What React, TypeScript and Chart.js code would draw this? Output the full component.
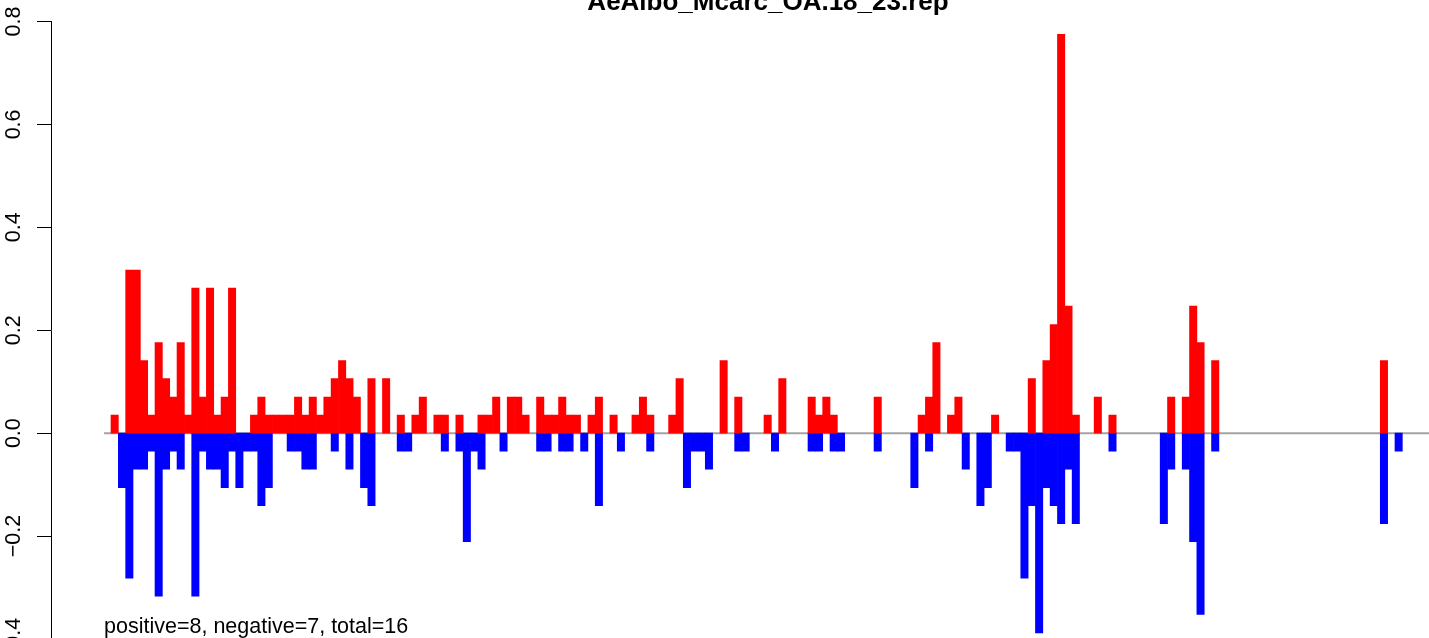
import React, { useEffect, useRef } from 'react';
import { Chart, registerables } from 'chart.js';

Chart.register(...registerables);

const FONT = '"Liberation Sans", Arial, Helvetica, sans-serif';

const chartTitle = 'AeAlbo_Mcarc_OA.18_23.rep';
const noteText = 'positive=8, negative=7, total=16';

// bar slots (categories) 0..175
const positions = Array.from({ length: 176 }, (_, i) => i);

const positiveValues = [
  0.035, 0, 0.317, 0.317, 0.141, 0.035, 0.176, 0.106, 0.070, 0.176,
  0.035, 0.282, 0.070, 0.282, 0.035, 0.070, 0.282, 0, 0, 0.035,
  0.070, 0.035, 0.035, 0.035, 0.035, 0.070, 0.035, 0.070, 0.035, 0.070,
  0.106, 0.141, 0.106, 0.070, 0, 0.106, 0, 0.106, 0, 0.035,
  0, 0.035, 0.070, 0, 0.035, 0.035, 0, 0.035, 0, 0,
  0.035, 0.035, 0.070, 0, 0.070, 0.070, 0.035, 0, 0.070, 0.035,
  0.035, 0.070, 0.035, 0.035, 0, 0.035, 0.070, 0, 0.035, 0,
  0, 0.035, 0.070, 0.035, 0, 0, 0.035, 0.106, 0, 0,
  0, 0, 0, 0.141, 0, 0.070, 0, 0, 0, 0.035,
  0, 0.106, 0, 0, 0, 0.070, 0.035, 0.070, 0.035, 0,
  0, 0, 0, 0, 0.070, 0, 0, 0, 0, 0,
  0.035, 0.070, 0.176, 0, 0.035, 0.070, 0, 0, 0, 0,
  0.035, 0, 0, 0, 0, 0.106, 0, 0.141, 0.211, 0.775,
  0.247, 0.035, 0, 0, 0.070, 0, 0.035, 0, 0, 0,
  0, 0, 0, 0, 0.070, 0, 0.070, 0.247, 0.176, 0,
  0.141, 0, 0, 0, 0, 0, 0, 0, 0, 0,
  0, 0, 0, 0, 0, 0, 0, 0, 0, 0,
  0, 0, 0, 0.141, 0, 0,
];

const negativeValues = [
  0, -0.106, -0.282, -0.070, -0.070, -0.035, -0.317, -0.070, -0.035, -0.070,
  0, -0.317, -0.035, -0.070, -0.070, -0.106, -0.035, -0.106, -0.035, -0.035,
  -0.141, -0.106, 0, 0, -0.035, -0.035, -0.070, -0.070, 0, 0,
  -0.035, 0, -0.070, 0, -0.106, -0.141, 0, 0, 0, -0.035,
  -0.035, 0, 0, 0, 0, -0.035, 0, -0.035, -0.211, -0.035,
  -0.070, 0, 0, -0.035, 0, 0, 0, 0, -0.035, -0.035,
  0, -0.035, -0.035, 0, -0.035, 0, -0.141, 0, 0, -0.035,
  0, 0, 0, -0.035, 0, 0, 0, 0, -0.106, -0.035,
  -0.035, -0.070, 0, 0, 0, -0.035, -0.035, 0, 0, 0,
  -0.035, 0, 0, 0, 0, -0.035, -0.035, 0, -0.035, -0.035,
  0, 0, 0, 0, -0.035, 0, 0, 0, 0, -0.106,
  0, -0.035, 0, 0, 0, 0, -0.070, 0, -0.141, -0.106,
  0, 0, -0.035, -0.035, -0.282, -0.141, -0.388, -0.106, -0.141, -0.176,
  -0.070, -0.176, 0, 0, 0, 0, -0.035, 0, 0, 0,
  0, 0, 0, -0.176, -0.070, 0, -0.070, -0.211, -0.352, 0,
  -0.035, 0, 0, 0, 0, 0, 0, 0, 0, 0,
  0, 0, 0, 0, 0, 0, 0, 0, 0, 0,
  0, 0, 0, -0.176, 0, -0.035,
];

// baseline (grey zero line) extent in slot units
const zeroLineX = [-1.45, 200];
// annotation anchor (data units)
const noteX = -1.45;
const noteY = -0.389;

const notePlugin = {
  id: 'noteText',
  afterDraw(chart: any) {
    const { ctx, scales } = chart;
    ctx.save();
    ctx.font = `21.5px ${FONT}`;
    ctx.fillStyle = '#000000';
    ctx.textAlign = 'left';
    ctx.textBaseline = 'alphabetic';
    ctx.fillText(noteText, scales.x.getPixelForValue(noteX), scales.y.getPixelForValue(noteY));
    ctx.restore();
  },
};

const toPoints = (vals: number[]) =>
  positions.map((x, i) => ({ x, y: vals[i] === 0 ? null : vals[i] }));

export default function App() {
  const ref = useRef<HTMLCanvasElement | null>(null);

  useEffect(() => {
    document.documentElement.style.overflow = 'hidden';
    document.body.style.overflow = 'hidden';
    if (!ref.current) return;
    Chart.defaults.font.family = FONT;
    const chart = new Chart(ref.current, {
      type: 'bar',
      data: {
        datasets: [
          {
            type: 'line',
            data: zeroLineX.map((x) => ({ x, y: 0 })),
            borderColor: '#a3a3a3',
            borderWidth: 2,
            pointRadius: 0,
            order: 5,
          } as any,
          {
            type: 'bar',
            data: toPoints(positiveValues),
            backgroundColor: '#ff0000',
            borderWidth: 0,
            barPercentage: 1,
            categoryPercentage: 1,
            grouped: false,
            order: 1,
          } as any,
          {
            type: 'bar',
            data: toPoints(negativeValues),
            backgroundColor: '#0000ff',
            borderWidth: 0,
            barPercentage: 1,
            categoryPercentage: 1,
            grouped: false,
            order: 1,
          } as any,
        ],
      },
      options: {
        animation: false,
        responsive: false,
        devicePixelRatio: 1,
        layout: { padding: { top: 27.3, bottom: 21, left: 0, right: 15 } },
        plugins: {
          legend: { display: false },
          tooltip: { enabled: false },
          title: {
            display: true,
            text: chartTitle,
            fullSize: false,
            color: '#000000',
            font: { family: FONT, size: 26, weight: 'bold', lineHeight: 1.2 },
            padding: { top: 0, bottom: 3 },
          },
        },
        scales: {
          x: {
            type: 'linear',
            min: -8.678,
            max: 186.77,
            offset: false,
            display: false,
          },
          y: {
            min: -0.4,
            max: 0.8,
            ticks: {
              stepSize: 0.2,
              minRotation: 90,
              maxRotation: 90,
              crossAlign: 'center',
              padding: 2,
              color: '#000000',
              font: { family: FONT, size: 21.5 },
              callback: (v: any) => {
                const n = Number(v);
                const s = Math.abs(n).toFixed(1);
                return n < -1e-9 ? '\u2212' + s : s;
              },
            },
            grid: {
              display: true,
              drawOnChartArea: false,
              drawTicks: true,
              tickLength: 14,
              color: '#000000',
              lineWidth: 1,
            },
            border: { display: true, color: '#000000', width: 1 },
            afterFit: (s: any) => {
              s.width = 51;
              s.paddingTop = 0;
              s.paddingBottom = 0;
            },
          },
        },
      } as any,
      plugins: [notePlugin],
    });
    return () => chart.destroy();
  }, []);

  return (
    <div style={{ position: 'absolute', left: 0, top: -40, width: 1500, height: 700 }}>
      <canvas ref={ref} width={1500} height={700} style={{ display: 'block' }} />
    </div>
  );
}
